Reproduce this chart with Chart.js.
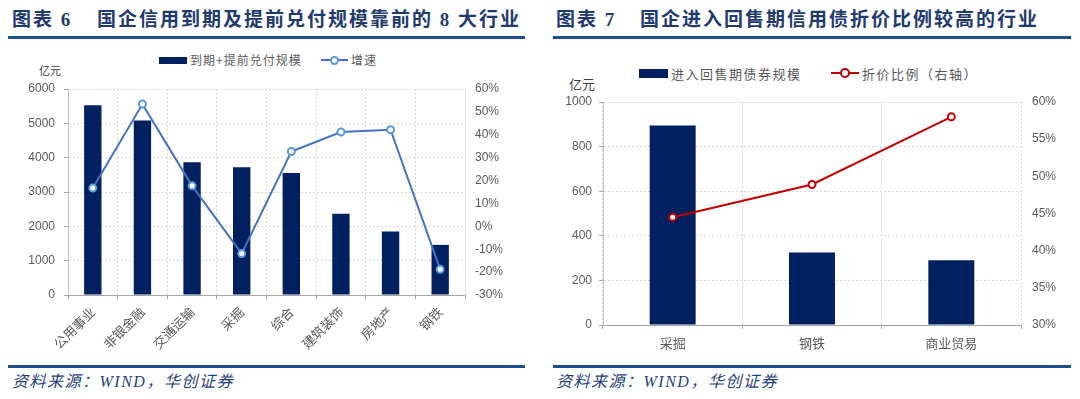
<!DOCTYPE html>
<html>
<head>
<meta charset="utf-8">
<script src="https://cdn.jsdelivr.net/npm/chart.js@4.4.1/dist/chart.umd.min.js"></script>
<style>
  body { margin: 0; width: 1080px; height: 399px; background: #fff; position: relative; overflow: hidden; }
  .abs { position: absolute; white-space: nowrap; }
  .title { font-family: "Liberation Serif", "Noto Sans CJK SC", serif; font-weight: 700; font-size: 19px; letter-spacing: 2px; color: #1f3a6e; top: 10px; height: 20px; line-height: 20px; }
  .rule { background: #1f4f8f; height: 3px; }
  .source { font-family: "Liberation Serif", "Noto Sans CJK SC", serif; font-style: italic; font-size: 16px; letter-spacing: 1.5px; color: #1f3f7a; top: 372px; height: 20px; line-height: 20px; }
  .leg { font-family: "Noto Sans CJK SC", sans-serif; color: #595959; }
  .unit { font-family: "Noto Sans CJK SC", sans-serif; color: #404040; }
  canvas { position: absolute; }
</style>
</head>
<body>

<div class="abs title" style="left:12px">图表 6</div>
<div class="abs title" style="left:97px">国企信用到期及提前兑付规模靠前的 8 大行业</div>
<div class="abs rule" style="left:8px;width:517px;top:36px"></div>

<div class="abs title" style="left:556px">图表 7</div>
<div class="abs title" style="left:640px">国企进入回售期信用债折价比例较高的行业</div>
<div class="abs rule" style="left:553px;width:518px;top:36px"></div>

<!-- legend 6 -->
<div class="abs" style="left:159px;top:57px;width:28px;height:7px;background:#002060"></div>
<div class="abs leg" style="left:190px;top:52px;height:16px;line-height:16px;font-size:12px;letter-spacing:1px">到期+提前兑付规模</div>
<div class="abs" style="left:321px;top:59px;width:27px;height:2px;background:#4472c4"></div>
<div class="abs" style="left:330px;top:56px;width:9px;height:9px;box-sizing:border-box;border:2px solid #5b9bd5;border-radius:50%;background:#fff"></div>
<div class="abs leg" style="left:351px;top:52px;height:16px;line-height:16px;font-size:12px;letter-spacing:1px">增速</div>
<div class="abs unit" style="left:39px;top:62px;height:16px;line-height:16px;font-size:11px">亿元</div>

<!-- legend 7 -->
<div class="abs" style="left:639px;top:69px;width:29px;height:9px;background:#002060"></div>
<div class="abs leg" style="left:671px;top:65px;height:17px;line-height:17px;font-size:13px;letter-spacing:1.5px">进入回售期债券规模</div>
<div class="abs" style="left:831px;top:72px;width:28px;height:2px;background:#c00000"></div>
<div class="abs" style="left:840px;top:68px;width:10px;height:10px;box-sizing:border-box;border:2px solid #c00000;border-radius:50%;background:#fff"></div>
<div class="abs leg" style="left:862px;top:65px;height:17px;line-height:17px;font-size:13px;letter-spacing:1.5px">折价比例（右轴）</div>
<div class="abs unit" style="left:569px;top:75px;height:17px;line-height:17px;font-size:13px">亿元</div>

<canvas id="c6" width="540" height="325" style="left:0;top:40px"></canvas>
<canvas id="c7" width="540" height="325" style="left:540px;top:40px"></canvas>

<div class="abs rule" style="left:8px;width:517px;top:365px"></div>
<div class="abs rule" style="left:553px;width:518px;top:365px"></div>
<div class="abs source" style="left:12px">资料来源：WIND，华创证券</div>
<div class="abs source" style="left:556px">资料来源：WIND，华创证券</div>

<script>
// 图表 6
const industries6 = ['公用事业', '非银金融', '交通运输', '采掘', '综合', '建筑装饰', '房地产', '钢铁'];
const dueScale6 = [5530, 5080, 3870, 3720, 3550, 2370, 1850, 1460];
const growth6 = [16.7, 53.4, 17.7, -11.9, 32.7, 41.2, 42.2, -18.8];

// 图表 7
const industries7 = ['采掘', '钢铁', '商业贸易'];
const putScale7 = [895, 325, 290];
const discount7 = [44.5, 48.9, 58.0];

const grey = '#595959';
const gridColor = '#d9d9d9';
const axisColor = '#a6a6a6';
const numFont = { family: "'Liberation Sans', Arial, sans-serif", size: 12 };
const cjkFont = { family: "'Noto Sans CJK SC', sans-serif", size: 13 };

const chart6 = new Chart(document.getElementById('c6'), {
  type: 'bar',
  data: {
    labels: industries6,
    datasets: [
      {
        type: 'line',
        label: '增速',
        data: growth6,
        yAxisID: 'y1',
        borderColor: '#4472c4',
        borderWidth: 2,
        pointRadius: 3.5,
        pointBorderWidth: 2,
        pointBackgroundColor: '#fff',
        pointBorderColor: '#5b9bd5',
        order: 1
      },
      {
        label: '到期+提前兑付规模',
        data: dueScale6,
        yAxisID: 'y',
        backgroundColor: '#002060',
        barPercentage: 0.35,
        categoryPercentage: 1,
        order: 2
      }
    ]
  },
  options: {
    responsive: false,
    animation: false,
    layout: { padding: { top: 49, left: 0, right: 0, bottom: 0 } },
    plugins: { legend: { display: false }, tooltip: { enabled: false } },
    scales: {
      x: {
        grid: { color: gridColor, tickColor: axisColor, tickLength: 4, offset: true },
        border: { color: axisColor, dash: [2, 2] },
        ticks: { color: grey, font: cjkFont, minRotation: 45, maxRotation: 45, padding: 5, autoSkip: false },
        afterFit: s => { s.height = 70; }
      },
      y: {
        min: 0,
        max: 6000,
        ticks: { stepSize: 1000, color: grey, font: numFont, padding: 9, callback: v => String(v) },
        grid: { color: gridColor, tickColor: axisColor, tickLength: 4 },
        border: { color: '#bfbfbf', dash: [2, 2] },
        afterFit: s => { s.width = 68; }
      },
      y1: {
        position: 'right',
        min: -30,
        max: 60,
        ticks: { stepSize: 10, color: grey, font: numFont, padding: 10, callback: v => v + '%' },
        grid: { drawOnChartArea: false, drawTicks: false },
        border: { display: false },
        afterFit: s => { s.width = 75; }
      }
    }
  }
});

const chart7 = new Chart(document.getElementById('c7'), {
  type: 'bar',
  data: {
    labels: industries7,
    datasets: [
      {
        type: 'line',
        label: '折价比例（右轴）',
        data: discount7,
        yAxisID: 'y1',
        borderColor: '#c00000',
        borderWidth: 2,
        pointRadius: 3.5,
        pointBorderWidth: 2,
        pointBackgroundColor: '#fff',
        pointBorderColor: '#c00000',
        order: 1
      },
      {
        label: '进入回售期债券规模',
        data: putScale7,
        yAxisID: 'y',
        backgroundColor: '#002060',
        barPercentage: 0.33,
        categoryPercentage: 1,
        order: 2
      }
    ]
  },
  options: {
    responsive: false,
    animation: false,
    layout: { padding: { top: 62, left: 0, right: 0, bottom: 0 } },
    plugins: { legend: { display: false }, tooltip: { enabled: false } },
    scales: {
      x: {
        grid: { color: gridColor, tickColor: axisColor, tickLength: 4, offset: true },
        border: { color: axisColor, dash: [2, 2] },
        ticks: { color: grey, font: cjkFont, maxRotation: 0, padding: 6, autoSkip: false },
        afterFit: s => { s.height = 40; }
      },
      y: {
        min: 0,
        max: 1000,
        ticks: { stepSize: 200, color: grey, font: numFont, padding: 7, callback: v => String(v) },
        grid: { color: gridColor, tickColor: axisColor, tickLength: 4 },
        border: { color: '#bfbfbf', dash: [2, 2] },
        afterFit: s => { s.width = 63; }
      },
      y1: {
        position: 'right',
        min: 30,
        max: 60,
        ticks: { stepSize: 5, color: grey, font: numFont, padding: 11, callback: v => v + '%' },
        grid: { drawOnChartArea: false, drawTicks: false },
        border: { display: false },
        afterFit: s => { s.width = 59; }
      }
    }
  }
});
</script>
</body>
</html>
